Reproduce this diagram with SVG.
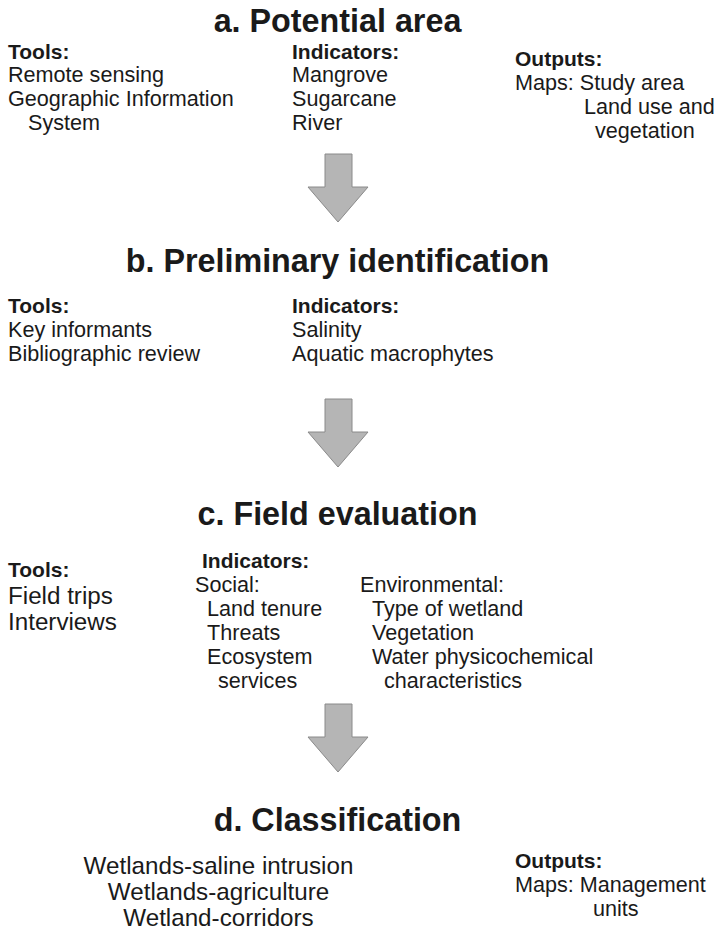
<svg xmlns="http://www.w3.org/2000/svg" width="716" height="936" viewBox="0 0 716 936">
  <style>
    text { font-family: "Liberation Sans", Arial, sans-serif; fill: #1a1a1a; }
    .title { font-size: 32.3px; font-weight: bold; text-anchor: middle; }
    .head { font-size: 21px; font-weight: bold; }
    .body { font-size: 21.6px; }
    .big { font-size: 24.2px; }
    .mid { text-anchor: middle; }
    .arrow { fill: #b5b5b5; stroke: #8a8a8a; stroke-width: 1; }
  </style>
  <defs>
    <!-- block arrow pointing down, tip at origin -->
    <polygon id="down" class="arrow" points="-13,-68 14,-68 14,-35 30,-35 0,0 -30,-35 -13,-35"/>
  </defs>
  <rect width="716" height="936" fill="#ffffff"/>

  <!-- a. Potential area -->
  <g id="stage-a">
    <text class="title" x="337.5" y="32">a. Potential area</text>
    <text class="head" x="8" y="59">Tools:</text>
    <text class="body" x="8" y="82">Remote sensing</text>
    <text class="body" x="8" y="106">Geographic Information</text>
    <text class="body" x="28" y="130">System</text>
    <text class="head" x="292" y="59">Indicators:</text>
    <text class="body" x="292" y="82">Mangrove</text>
    <text class="body" x="292" y="106">Sugarcane</text>
    <text class="body" x="292" y="130">River</text>
    <text class="head" x="515" y="66">Outputs:</text>
    <text class="body" x="515" y="90">Maps: Study area</text>
    <text class="body" x="584" y="114">Land use and</text>
    <text class="body" x="595" y="138">vegetation</text>
  </g>

  <!-- b. Preliminary identification -->
  <g id="stage-b">
    <text class="title" x="337.5" y="272">b. Preliminary identification</text>
    <text class="head" x="8" y="313">Tools:</text>
    <text class="body" x="8" y="337">Key informants</text>
    <text class="body" x="8" y="361">Bibliographic review</text>
    <text class="head" x="292" y="313">Indicators:</text>
    <text class="body" x="292" y="337">Salinity</text>
    <text class="body" x="292" y="361">Aquatic macrophytes</text>
  </g>

  <!-- c. Field evaluation -->
  <g id="stage-c">
    <text class="title" x="337.5" y="525">c. Field evaluation</text>
    <text class="head" x="8" y="577">Tools:</text>
    <text class="big" x="8" y="604">Field trips</text>
    <text class="big" x="8" y="630">Interviews</text>
    <text class="head" x="202" y="568">Indicators:</text>
    <text class="body" x="195" y="592">Social:</text>
    <text class="body" x="207" y="616">Land tenure</text>
    <text class="body" x="207" y="640">Threats</text>
    <text class="body" x="207" y="664">Ecosystem</text>
    <text class="body" x="218" y="688">services</text>
    <text class="body" x="360" y="592">Environmental:</text>
    <text class="body" x="372" y="616">Type of wetland</text>
    <text class="body" x="372" y="640">Vegetation</text>
    <text class="body" x="372" y="664">Water physicochemical</text>
    <text class="body" x="384" y="688">characteristics</text>
  </g>

  <!-- d. Classification -->
  <g id="stage-d">
    <text class="title" x="337.5" y="831">d. Classification</text>
    <text class="big mid" x="218.5" y="874">Wetlands-saline intrusion</text>
    <text class="big mid" x="218.5" y="900">Wetlands-agriculture</text>
    <text class="big mid" x="218.5" y="926">Wetland-corridors</text>
    <text class="head" x="515" y="868">Outputs:</text>
    <text class="body" x="515" y="892">Maps: Management</text>
    <text class="body" x="593" y="916">units</text>
  </g>

  <!-- connectors between stages -->
  <g id="connectors">
    <use href="#down" x="338" y="222"/>
    <use href="#down" x="338" y="467"/>
    <use href="#down" x="338" y="772"/>
  </g>
</svg>
